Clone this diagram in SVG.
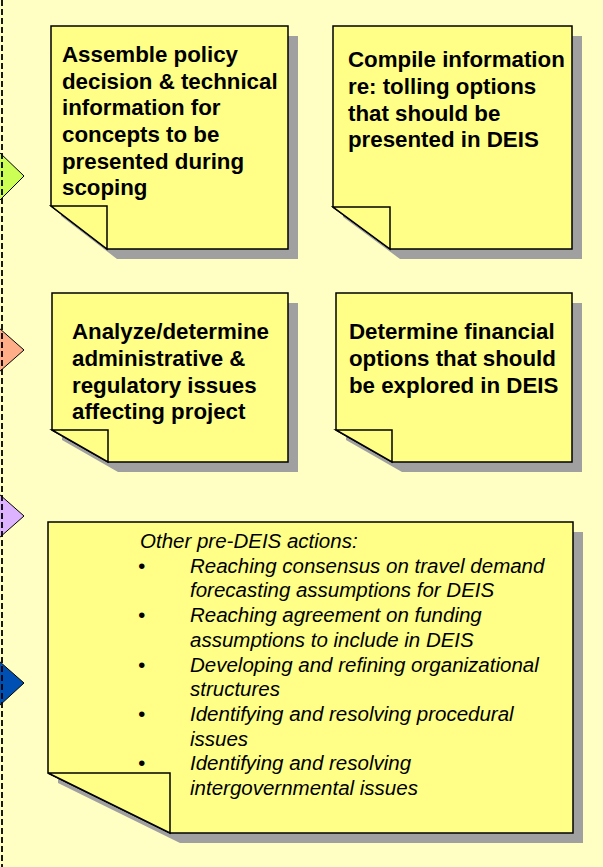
<svg xmlns="http://www.w3.org/2000/svg" width="603" height="867" viewBox="0 0 603 867">
<style>
.shadow{fill:#A0A0A0;stroke:none}
.note{fill:#FFFF88;stroke:#000;stroke-width:1.5;stroke-linejoin:miter}
.flap{fill:#FFFF88;stroke:#000;stroke-width:1.5}
.b{font-family:"Liberation Sans",Arial,sans-serif;font-weight:bold;font-size:22.3px;fill:#000}
.i{font-family:"Liberation Sans",Arial,sans-serif;font-style:italic;font-size:20.5px;fill:#000}
.tri{stroke:#000;stroke-width:1}
</style>
<rect x="0" y="0" width="603" height="867" fill="#FFFFC4"/>
<g id="markers">
<polygon class="tri" points="-1,152 24,176 -1,201" fill="#CCFF55"/>
<polygon class="tri" points="-1,328 24,350 -1,372" fill="#FFAE88"/>
<polygon class="tri" points="-1,494 24,516 -1,538" fill="#DDB3FF"/>
<polygon class="tri" points="-1,661 24,683 -1,706" fill="#0050B4"/>
</g>
<g id="connectors">
<line x1="2" y1="0" x2="2" y2="867" stroke="#000" stroke-width="1.8" stroke-dasharray="6,3"/>
</g>
<g id="node1">
<polygon class="shadow" points="61,36 298,36 298,259 117,259 61,216"/>
<polygon class="note" points="51,26 288,26 288,249 107,249 51,206"/>
<polygon class="flap" points="51,206 107,206 107,249"/>
<text class="b"><tspan x="62" y="62">Assemble policy</tspan><tspan x="62" y="88.7">decision &amp; technical</tspan><tspan x="62" y="115.3">information for</tspan><tspan x="62" y="142">concepts to be</tspan><tspan x="62" y="168.7">presented during</tspan><tspan x="62" y="195.3">scoping</tspan></text>
</g>
<g id="node2">
<polygon class="shadow" points="343,36 582,36 582,259 400,259 343,217"/>
<polygon class="note" points="333,26 572,26 572,249 390,249 333,207"/>
<polygon class="flap" points="333,207 390,207 390,249"/>
<text class="b"><tspan x="348" y="66.7">Compile information</tspan><tspan x="348" y="93.6">re: tolling options</tspan><tspan x="348" y="120.5">that should be</tspan><tspan x="348" y="147.4">presented in DEIS</tspan></text>
</g>
<g id="node3">
<polygon class="shadow" points="62,303 298,303 298,472 118,472 62,440"/>
<polygon class="note" points="52,293 288,293 288,462 108,462 52,430"/>
<polygon class="flap" points="52,430 108,430 108,462"/>
<text class="b"><tspan x="72" y="339.3">Analyze/determine</tspan><tspan x="72" y="366">administrative &amp;</tspan><tspan x="72" y="392.7">regulatory issues</tspan><tspan x="72" y="419.3">affecting project</tspan></text>
</g>
<g id="node4">
<polygon class="shadow" points="346,303 582,303 582,472 402,472 346,440"/>
<polygon class="note" points="336,293 572,293 572,462 392,462 336,430"/>
<polygon class="flap" points="336,430 392,430 392,462"/>
<text class="b"><tspan x="349" y="339.3">Determine financial</tspan><tspan x="349" y="366">options that should</tspan><tspan x="349" y="392.7">be explored in DEIS</tspan></text>
</g>
<g id="node5">
<polygon class="shadow" points="58,532 583,532 583,843 180,843 58,783"/>
<polygon class="note" points="48,522 573,522 573,833 170,833 48,773"/>
<polygon class="flap" points="48,773 170,773 170,833"/>
<text class="i"><tspan x="140" y="548">Other pre-DEIS actions:</tspan></text>
<text class="i">
<tspan x="138" y="572.7">•</tspan><tspan x="190" y="572.7">Reaching consensus on travel demand</tspan>
<tspan x="190" y="597.4">forecasting assumptions for DEIS</tspan>
<tspan x="138" y="622.1">•</tspan><tspan x="190" y="622.1">Reaching agreement on funding</tspan>
<tspan x="190" y="646.8">assumptions to include in DEIS</tspan>
<tspan x="138" y="671.5">•</tspan><tspan x="190" y="671.5">Developing and refining organizational</tspan>
<tspan x="190" y="696.2">structures</tspan>
<tspan x="138" y="720.9">•</tspan><tspan x="190" y="720.9">Identifying and resolving procedural</tspan>
<tspan x="190" y="745.6">issues</tspan>
<tspan x="138" y="770.3">•</tspan><tspan x="190" y="770.3">Identifying and resolving</tspan>
<tspan x="190" y="795">intergovernmental issues</tspan>
</text>
</g>
</svg>
